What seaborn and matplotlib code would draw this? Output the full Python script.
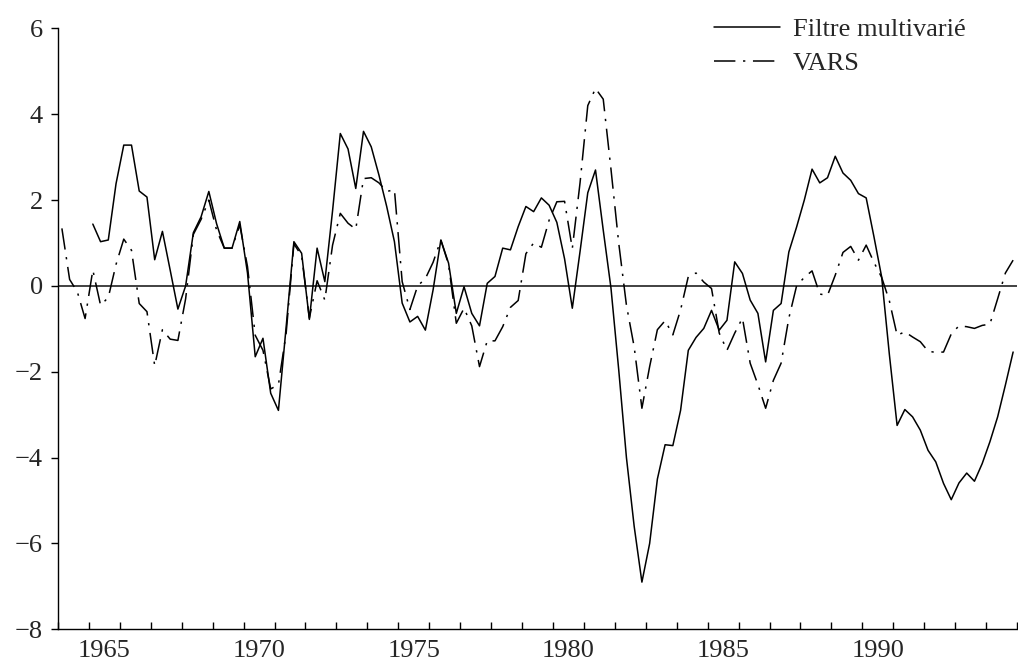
import matplotlib

matplotlib.use("Agg")

import matplotlib.pyplot as plt
import numpy as np
import pandas as pd
import seaborn as sns

# quarterly observations, 1964Q1 .. 1994Q4
start_year = 1964
n_quarters = 124

vars_values = [
    1.34, 0.15, -0.14, -0.76, 0.37, -0.45, -0.27, 0.50,
    1.09, 0.83, -0.41, -0.60, -1.86, -1.02, -1.24, -1.27,
    -0.30, 1.20, 1.55, 2.00, 1.30, 0.88, 0.88, 1.42,
    0.45, -1.15, -1.50, -2.40, -2.30, -1.10, 0.98, 0.70,
    -0.75, 0.12, -0.33, 0.95, 1.69, 1.46, 1.32, 2.50,
    2.52, 2.40, 2.20, 2.24, 0.10, -0.55, 0.00, 0.17,
    0.55, 1.07, 0.50, -0.87, -0.52, -0.93, -1.88, -1.28,
    -1.28, -0.95, -0.50, -0.34, 0.75, 1.00, 0.90, 1.53,
    1.96, 1.97, 0.87, 2.40, 4.20, 4.60, 4.35, 2.72,
    1.00, -0.45, -1.42, -2.85, -1.88, -1.02, -0.81, -1.14,
    -0.56, 0.22, 0.30, 0.09, -0.06, -1.10, -1.50, -1.10,
    -0.75, -1.80, -2.30, -2.85, -2.20, -1.80, -0.75, 0.00,
    0.20, 0.35, -0.19, -0.22, 0.25, 0.78, 0.92, 0.60,
    0.95, 0.55, 0.20, -0.35, -1.15, -1.07, -1.19, -1.30,
    -1.52, -1.55, -1.54, -1.12, -0.93, -0.95, -0.99, -0.92,
    -0.89, -0.30, 0.30, 0.60,
]

# the multivariate filter starts in 1965Q1
filtre_values = [
    np.nan, np.nan, np.nan, np.nan, 1.44, 1.03, 1.07, 2.38,
    3.28, 3.28, 2.21, 2.07, 0.61, 1.27, 0.37, -0.54,
    0.00, 1.24, 1.61, 2.20, 1.45, 0.88, 0.88, 1.50,
    0.30, -1.65, -1.22, -2.50, -2.90, -0.95, 1.03, 0.76,
    -0.78, 0.88, 0.10, 1.75, 3.55, 3.19, 2.27, 3.60,
    3.24, 2.58, 1.85, 1.03, -0.40, -0.84, -0.71, -1.03,
    -0.09, 1.07, 0.53, -0.64, -0.02, -0.64, -0.93, 0.06,
    0.22, 0.88, 0.84, 1.38, 1.85, 1.73, 2.05, 1.88,
    1.48, 0.63, -0.52, 0.80, 2.17, 2.70, 1.30, -0.05,
    -1.95, -4.00, -5.60, -6.90, -6.00, -4.50, -3.70, -3.72,
    -2.90, -1.50, -1.20, -0.99, -0.57, -1.03, -0.80, 0.56,
    0.29, -0.33, -0.64, -1.77, -0.57, -0.41, 0.79, 1.37,
    2.00, 2.72, 2.40, 2.52, 3.02, 2.63, 2.46, 2.15,
    2.05, 1.15, 0.21, -1.60, -3.25, -2.88, -3.05, -3.36,
    -3.83, -4.10, -4.60, -4.98, -4.59, -4.36, -4.55, -4.14,
    -3.63, -3.05, -2.31, -1.54,
]

series_names = ["Filtre multivarié", "VARS"]
year_labels = [1965, 1970, 1975, 1980, 1985, 1990]
y_ticks = [6, 4, 2, 0, -2, -4, -6, -8]

dates = start_year + (np.arange(n_quarters) + 0.5) / 4

df = pd.concat(
    [
        pd.DataFrame({"date": dates, "value": filtre_values, "series": series_names[0]}),
        pd.DataFrame({"date": dates, "value": vars_values, "series": series_names[1]}),
    ],
    ignore_index=True,
).dropna()

sns.set_style("ticks")
plt.rcParams["font.family"] = ["Liberation Serif", "DejaVu Serif"]
plt.rcParams["font.size"] = 19

fig = plt.figure(figsize=(10.18, 6.70), dpi=100)
ax = fig.add_axes([0.057, 0.0607, 0.942, 0.897])

ax.axhline(0, color="#333333", lw=1.3, zorder=1)

sns.lineplot(
    data=df, x="date", y="value", style="series", style_order=series_names,
    dashes={series_names[0]: "", series_names[1]: (14, 5, 1.5, 5)},
    color="black", lw=1.1, estimator=None, sort=False, ax=ax,
)

ax.set_xlim(start_year, start_year + n_quarters / 4)
ax.set_ylim(-8, 6)
ax.set_xlabel("")
ax.set_ylabel("")

# year ticks (inside), labels centred on each year
ax.set_xticks(np.arange(start_year, start_year + n_quarters / 4 + 1))
ax.set_xticklabels([])
ax.set_xticks([y + 0.5 for y in year_labels], minor=True)
ax.set_xticklabels([str(y) for y in year_labels], minor=True)
ax.tick_params(axis="x", which="major", direction="in", length=5, width=1, color="black")
ax.tick_params(axis="x", which="minor", length=0, pad=8, labelsize=19)

ax.set_yticks(y_ticks)
ax.set_yticklabels([str(t).replace("-", "\u2212") for t in y_ticks])
ax.tick_params(axis="y", direction="out", length=5, width=1, pad=6, labelsize=19, color="black")

for side in ["top", "right"]:
    ax.spines[side].set_visible(False)
for side in ["left", "bottom"]:
    ax.spines[side].set_color("black")
    ax.spines[side].set_linewidth(1.0)

handles, labels = ax.get_legend_handles_labels()
ax.legend(
    handles, labels, loc="upper left", bbox_to_anchor=(0.688, 0.993),
    bbox_transform=fig.transFigure, frameon=False, fontsize=19,
    handlelength=2.5, handletextpad=0.5, labelspacing=0.4, borderpad=0,
)

fig.savefig("out.png", dpi=100)
